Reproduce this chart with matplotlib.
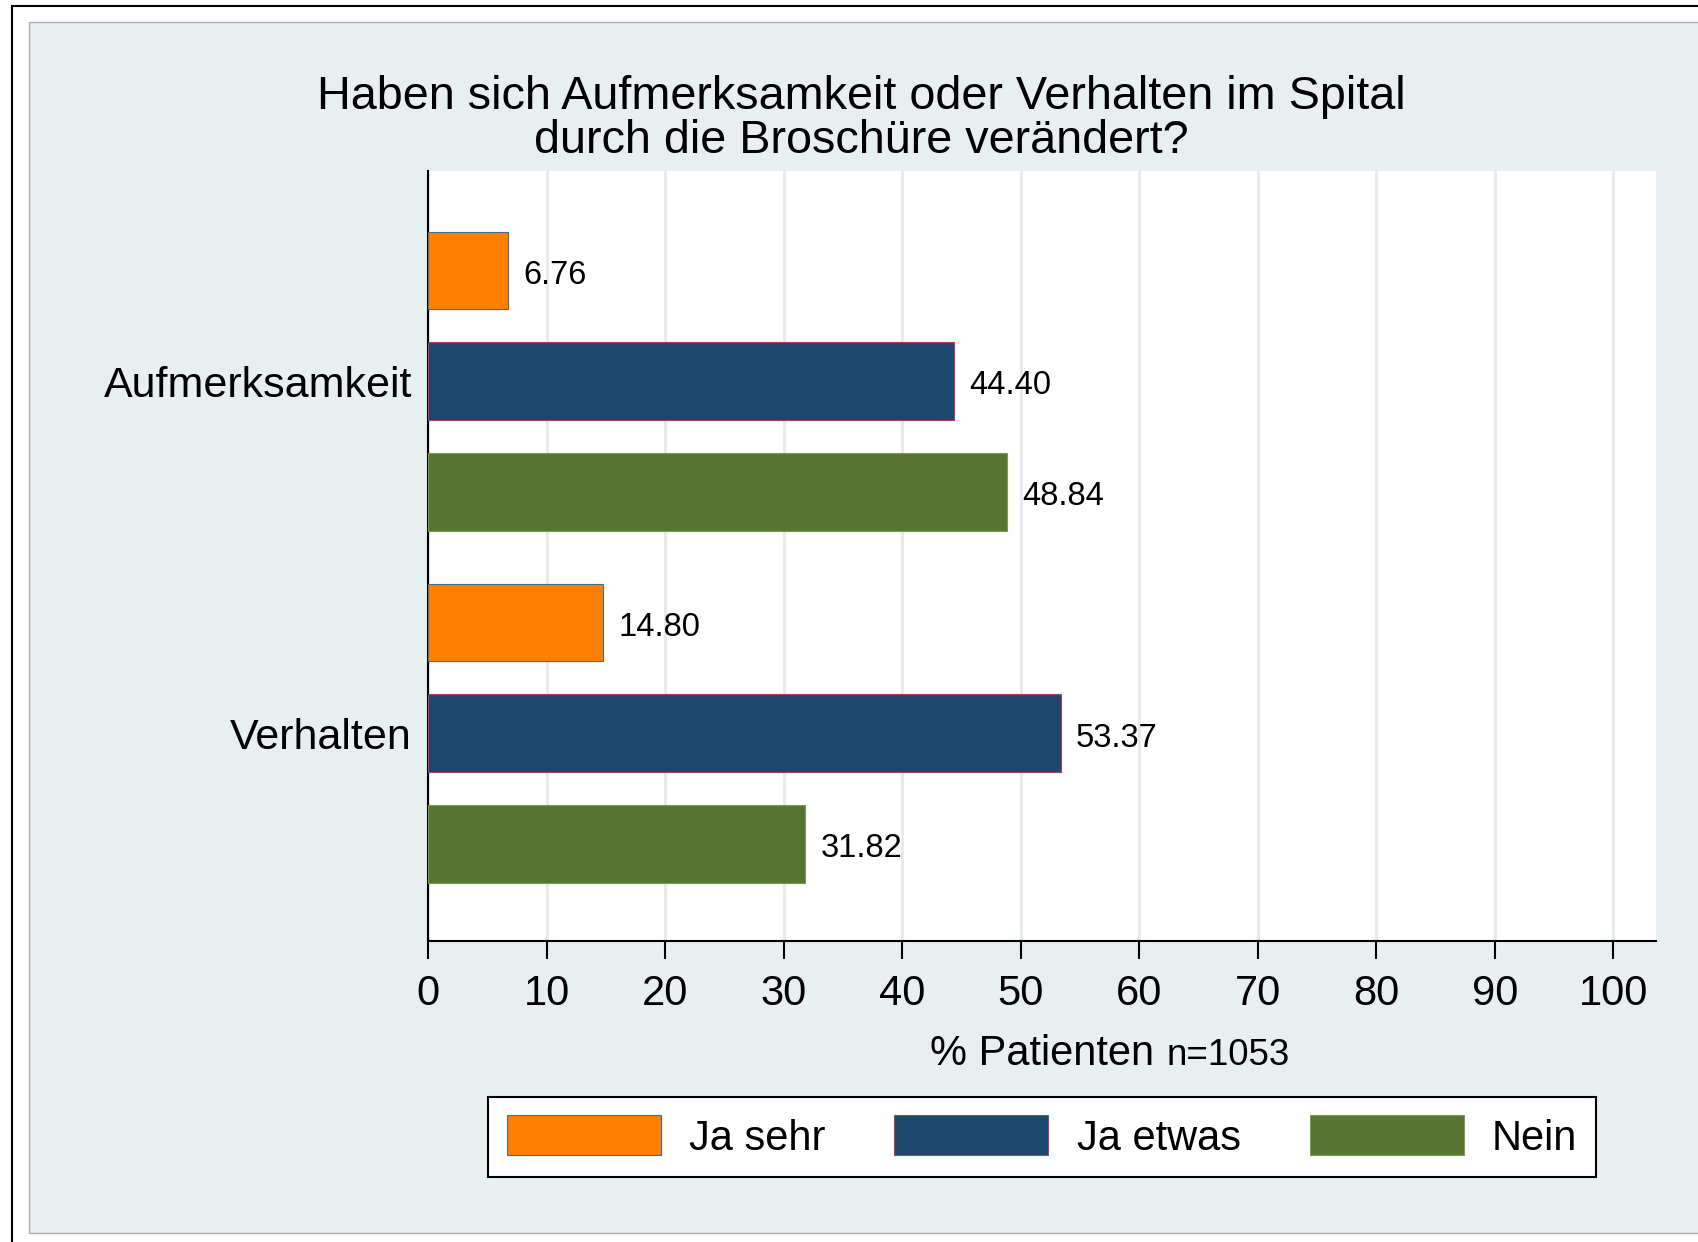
import numpy as np
import matplotlib.pyplot as plt
from matplotlib.patches import Rectangle, Patch

plt.rcParams['font.family'] = ['Liberation Sans', 'DejaVu Sans']

# Data
categories = ["Aufmerksamkeit", "Verhalten"]
series_names = ["Ja sehr", "Ja etwas", "Nein"]
ja_sehr = [6.76, 14.80]
ja_etwas = [44.40, 53.37]
nein = [48.84, 31.82]
x_ticks = [0, 10, 20, 30, 40, 50, 60, 70, 80, 90, 100]

colors = ["#FF8000", "#1C4870", "#577530"]
edges = ["#4A6A8A", "#B04050", "#7A9A5A"]
panel_bg = "#E8EFF1"

fig = plt.figure(figsize=(16.99, 12.42), dpi=100)

# outer frame and light panel (drawn behind the axes)
fig.patches.append(Rectangle((12 / 1699, -0.1), 2, 0.995 + 0.1, transform=fig.transFigure,
                             fill=False, edgecolor="black", lw=1.5, zorder=-2))
fig.patches.append(Rectangle((29 / 1699, 9 / 1242), 2, 1 - 31 / 1242, transform=fig.transFigure,
                             facecolor=panel_bg, edgecolor="#B0B0B0", lw=1, zorder=-1))

ax = fig.add_axes([428 / 1699, 301 / 1242, 1228 / 1699, 770 / 1242])
ax.set_zorder(1)
ax.set_facecolor("white")

gap = 0.18
bar_h = 0.7
all_series = [ja_sehr, ja_etwas, nein]
for j, vals in enumerate(all_series):
    ys = [i * (3 + gap) + j for i in range(len(categories))]
    ax.barh(ys, vals, height=bar_h, color=colors[j], edgecolor=edges[j], lw=0.8,
            label=series_names[j], zorder=3)
    for y, v in zip(ys, vals):
        ax.annotate(f"{v:.2f}", (v, y), xytext=(11, -3.5), textcoords="offset points",
                    ha="left", va="center", fontsize=23.5, zorder=4)

centers = [i * (3 + gap) + 1 for i in range(len(categories))]
ax.set_yticks(centers)
ax.set_yticklabels(categories, fontsize=31)
ax.set_ylim(2 + 3 + gap + 0.877, -0.897)
ax.set_xlim(0, 103.6)
ax.set_xticks(x_ticks)
ax.set_xticklabels([str(t) for t in x_ticks], fontsize=30)
ax.tick_params(axis="y", length=0, pad=11.5)
ax.tick_params(axis="x", length=13, width=1.5, pad=11, direction="out")
ax.grid(axis="x", color="#E4ECEF", lw=2.2, zorder=0)
ax.set_axisbelow(True)
for s in ["top", "right"]:
    ax.spines[s].set_visible(False)
for s in ["left", "bottom"]:
    ax.spines[s].set_linewidth(1.5)

# title
fig.text(861 / 1699, 1 - 119 / 1242,
         "Haben sich Aufmerksamkeit oder Verhalten im Spital\ndurch die Broschüre verändert?",
         ha="center", va="center", fontsize=33.7, linespacing=0.98)

# x axis title
fig.text(1042 / 1699, 1 - 1065 / 1242, "% Patienten", ha="center", va="baseline", fontsize=30)
fig.text(1167 / 1699, 1 - 1065 / 1242, "n=1053", ha="left", va="baseline", fontsize=26.5)

handles = [Patch(facecolor=colors[j], edgecolor=edges[j], lw=0.8) for j in range(3)]
leg = fig.legend(handles, series_names, loc="center", bbox_to_anchor=(1042 / 1699, 1 - 1137 / 1242),
                 ncol=3, fontsize=30, frameon=True, fancybox=False, edgecolor="black",
                 handlelength=3.7, handleheight=1.1, handletextpad=0.68, columnspacing=1.65,
                 borderpad=0.45)
leg.get_frame().set_linewidth(1.5)
leg.get_frame().set_facecolor("white")
leg.get_frame().set_alpha(1)

plt.savefig("out.png", dpi=100)
